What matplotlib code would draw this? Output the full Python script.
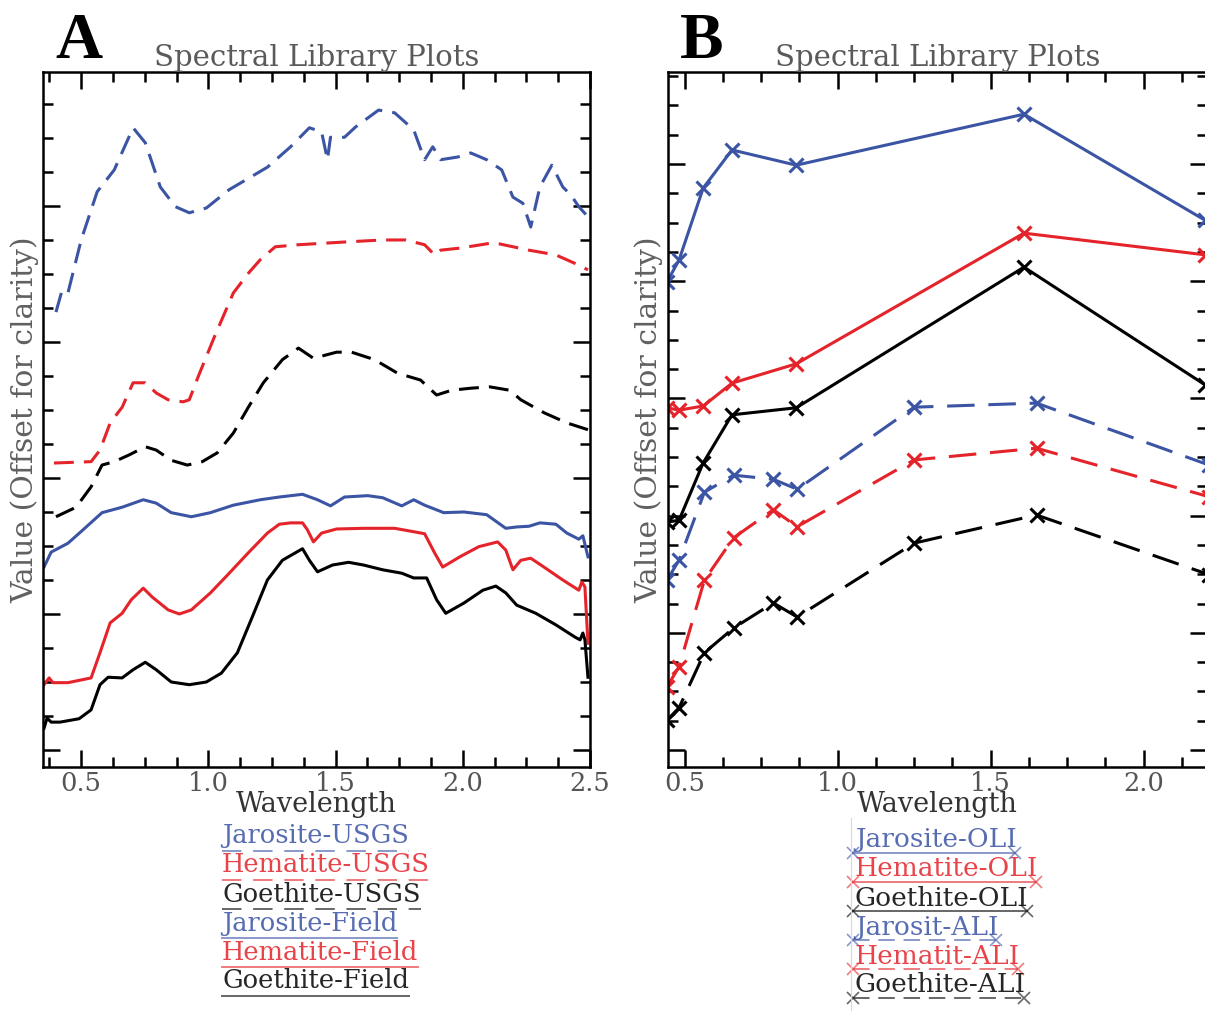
import numpy as np
import matplotlib

matplotlib.use("Agg")
import matplotlib.pyplot as plt
from matplotlib.lines import Line2D
from matplotlib.ticker import MultipleLocator, NullFormatter

BLUE = "#3b54a4"
RED = "#e4232a"
BLACK = "#000000"

# Panel A: USGS library spectra (dashed) and field spectra (solid), offset for clarity
jar_usgs_wl = [0.401, 0.425, 0.448, 0.500, 0.563, 0.630, 0.704, 0.752, 0.811, 0.870, 0.925, 0.992,
               1.082, 1.232, 1.323, 1.397, 1.445, 1.468, 1.480, 1.535, 1.578, 1.669, 1.732, 1.807,
               1.850, 1.882, 1.913, 1.980, 2.031, 2.094, 2.153, 2.197, 2.236, 2.267, 2.303, 2.350,
               2.393, 2.425, 2.456, 2.492]
jar_usgs = [0.644, 0.676, 0.672, 0.750, 0.821, 0.853, 0.915, 0.893, 0.828, 0.799, 0.790, 0.797,
            0.824, 0.857, 0.887, 0.915, 0.909, 0.868, 0.901, 0.901, 0.916, 0.941, 0.937, 0.912,
            0.868, 0.887, 0.868, 0.872, 0.878, 0.868, 0.853, 0.813, 0.804, 0.769, 0.828, 0.860,
            0.828, 0.816, 0.799, 0.784]

hem_usgs_wl = [0.393, 0.539, 0.574, 0.614, 0.661, 0.704, 0.752, 0.795, 0.842, 0.901, 0.925, 0.960,
               1.023, 1.098, 1.157, 1.204, 1.263, 1.354, 1.535, 1.685, 1.775, 1.850, 1.889, 1.913,
               1.988, 2.122, 2.260, 2.366, 2.456, 2.492]
hem_usgs = [0.422, 0.424, 0.441, 0.481, 0.504, 0.540, 0.540, 0.525, 0.515, 0.512, 0.515, 0.549,
            0.607, 0.672, 0.701, 0.721, 0.740, 0.743, 0.747, 0.750, 0.750, 0.743, 0.728, 0.735,
            0.738, 0.746, 0.735, 0.728, 0.713, 0.706]

goe_usgs_wl = [0.401, 0.480, 0.539, 0.582, 0.630, 0.689, 0.752, 0.795, 0.854, 0.917, 0.976, 1.035,
               1.098, 1.157, 1.216, 1.291, 1.354, 1.413, 1.504, 1.563, 1.653, 1.744, 1.834, 1.897,
               1.956, 2.031, 2.106, 2.185, 2.228, 2.319, 2.409, 2.492]
goe_usgs = [0.343, 0.357, 0.387, 0.419, 0.424, 0.434, 0.446, 0.441, 0.426, 0.419, 0.424, 0.437,
            0.466, 0.504, 0.540, 0.574, 0.591, 0.576, 0.585, 0.585, 0.574, 0.554, 0.544, 0.522,
            0.529, 0.532, 0.534, 0.529, 0.515, 0.496, 0.481, 0.471]

jar_field_wl = [0.354, 0.382, 0.448, 0.508, 0.582, 0.661, 0.744, 0.795, 0.854, 0.933, 1.008, 1.098,
                1.204, 1.279, 1.370, 1.429, 1.480, 1.535, 1.626, 1.685, 1.760, 1.807, 1.850, 1.925,
                2.004, 2.094, 2.169, 2.212, 2.260, 2.303, 2.366, 2.409, 2.456, 2.472, 2.492]
jar_field = [0.269, 0.291, 0.304, 0.324, 0.349, 0.357, 0.368, 0.363, 0.349, 0.343, 0.349, 0.360,
             0.368, 0.372, 0.376, 0.368, 0.359, 0.372, 0.374, 0.371, 0.359, 0.368, 0.360, 0.349,
             0.350, 0.346, 0.326, 0.328, 0.329, 0.334, 0.332, 0.319, 0.310, 0.315, 0.284]

hem_field_wl = [0.354, 0.374, 0.389, 0.448, 0.539, 0.574, 0.614, 0.661, 0.697, 0.744, 0.779, 0.842,
                0.886, 0.933, 1.008, 1.082, 1.157, 1.232, 1.279, 1.323, 1.370, 1.389, 1.413, 1.445,
                1.504, 1.610, 1.732, 1.807, 1.850, 1.889, 1.921, 1.988, 2.063, 2.137, 2.169, 2.197,
                2.228, 2.267, 2.319, 2.393, 2.456, 2.468, 2.480, 2.492]
hem_field = [0.096, 0.106, 0.099, 0.099, 0.106, 0.143, 0.187, 0.201, 0.221, 0.238, 0.225, 0.206,
             0.200, 0.206, 0.231, 0.260, 0.290, 0.319, 0.332, 0.334, 0.334, 0.324, 0.306, 0.319,
             0.325, 0.326, 0.326, 0.321, 0.318, 0.290, 0.269, 0.284, 0.299, 0.306, 0.294, 0.265,
             0.279, 0.282, 0.269, 0.250, 0.235, 0.247, 0.240, 0.157]

goe_field_wl = [0.354, 0.366, 0.382, 0.417, 0.492, 0.539, 0.574, 0.606, 0.661, 0.704, 0.752, 0.795,
                0.854, 0.925, 0.992, 1.051, 1.114, 1.173, 1.232, 1.291, 1.370, 1.397, 1.429, 1.488,
                1.551, 1.610, 1.685, 1.760, 1.807, 1.858, 1.897, 1.933, 2.004, 2.079, 2.130, 2.169,
                2.212, 2.287, 2.366, 2.441, 2.461, 2.472, 2.480, 2.492]
goe_field = [0.032, 0.047, 0.041, 0.041, 0.046, 0.059, 0.096, 0.107, 0.106, 0.118, 0.129, 0.118,
             0.100, 0.096, 0.100, 0.113, 0.143, 0.196, 0.250, 0.279, 0.296, 0.279, 0.262, 0.272,
             0.276, 0.272, 0.265, 0.260, 0.253, 0.253, 0.221, 0.201, 0.216, 0.235, 0.241, 0.231,
             0.213, 0.201, 0.184, 0.166, 0.162, 0.172, 0.162, 0.107]

# Panel B: spectra resampled to OLI (solid) and ALI (dashed) bands
oli_wl = [0.443, 0.482, 0.561, 0.655, 0.865, 1.609, 2.201]
jar_oli = [0.799, 0.836, 0.959, 1.024, 0.998, 1.085, 0.904]
hem_oli = [0.584, 0.580, 0.587, 0.626, 0.659, 0.882, 0.845]
goe_oli = [0.389, 0.392, 0.490, 0.572, 0.584, 0.824, 0.623]

ali_wl = [0.443, 0.482, 0.565, 0.660, 0.790, 0.868, 1.250, 1.650, 2.215]
jar_ali = [0.290, 0.324, 0.440, 0.469, 0.462, 0.445, 0.585, 0.592, 0.486]
hem_ali = [0.108, 0.142, 0.290, 0.362, 0.410, 0.381, 0.495, 0.515, 0.432]
goe_ali = [0.051, 0.072, 0.166, 0.208, 0.251, 0.227, 0.353, 0.401, 0.299]

legend_a = ["Jarosite-USGS", "Hematite-USGS", "Goethite-USGS",
            "Jarosite-Field", "Hematite-Field", "Goethite-Field"]
legend_b = ["Jarosite-OLI", "Hematite-OLI", "Goethite-OLI",
            "Jarosit-ALI", "Hematit-ALI", "Goethite-ALI"]

SERIF = ["DejaVu Serif"]
LW = 2.2
DASH_A = (6.5, 3.3)
DASH_B = (9, 4.5)

W, H = 1205, 1011


def style_axis(ax, xlim, ylim, ylabel_x):
    ax.set_xlim(*xlim)
    ax.set_ylim(*ylim)
    ax.xaxis.set_major_locator(MultipleLocator(0.5))
    ax.xaxis.set_minor_locator(MultipleLocator(0.125))
    ax.yaxis.set_major_locator(MultipleLocator(0.2))
    ax.yaxis.set_minor_locator(MultipleLocator(0.05))
    ax.yaxis.set_major_formatter(NullFormatter())
    ax.tick_params(which="both", direction="in", top=True, right=True, width=1.8,
                   labelsize=18.5, labelcolor="#555555", pad=3)
    ax.tick_params(which="major", length=12)
    ax.tick_params(which="minor", length=7)
    for label in ax.get_xticklabels():
        label.set_family(SERIF)
    for spine in ax.spines.values():
        spine.set_linewidth(1.8)
    ax.set_title("Spectral Library Plots", family=SERIF, fontsize=21, color="#5a5a5a", pad=4)
    ax.set_xlabel("Wavelength", family=SERIF, fontsize=19.5, color="#333333")
    ax.xaxis.set_label_coords(0.5, -0.035)
    ax.set_ylabel("Value (Offset for clarity)", family=SERIF, fontsize=21.5, color="#606060")
    ax.yaxis.set_label_coords(ylabel_x, 0.5)


def px_box(left, top, right, bottom):
    return [left / W, 1 - bottom / H, (right - left) / W, (bottom - top) / H]


fig = plt.figure(figsize=(W / 100, H / 100), dpi=100)

ax_a = fig.add_axes(px_box(43, 72, 590, 767))
ax_a.plot(jar_usgs_wl, jar_usgs, color=BLUE, lw=LW, dashes=DASH_A)
ax_a.plot(hem_usgs_wl, hem_usgs, color=RED, lw=LW, dashes=DASH_A)
ax_a.plot(goe_usgs_wl, goe_usgs, color=BLACK, lw=LW, dashes=DASH_A)
ax_a.plot(jar_field_wl, jar_field, color=BLUE, lw=LW)
ax_a.plot(hem_field_wl, hem_field, color=RED, lw=LW)
ax_a.plot(goe_field_wl, goe_field, color=BLACK, lw=LW)
style_axis(ax_a, (0.35, 2.5), (-0.025, 0.997), -0.006)

ax_b = fig.add_axes(px_box(668, 72, 1207, 767))
mk = dict(marker="x", markersize=10, markeredgewidth=2.2)
ax_b.plot(oli_wl, jar_oli, color=BLUE, lw=LW, **mk)
ax_b.plot(oli_wl, hem_oli, color=RED, lw=LW, **mk)
ax_b.plot(oli_wl, goe_oli, color=BLACK, lw=LW, **mk)
ax_b.plot(ali_wl, jar_ali, color=BLUE, lw=LW, dashes=DASH_B, **mk)
ax_b.plot(ali_wl, hem_ali, color=RED, lw=LW, dashes=DASH_B, **mk)
ax_b.plot(ali_wl, goe_ali, color=BLACK, lw=LW, dashes=DASH_B, **mk)
style_axis(ax_b, (0.446, 2.207), (-0.029, 1.157), -0.008)

fig.text(55 / W, 1 - 58 / H, "A", family=["Liberation Serif"], fontweight="bold",
         fontsize=47, va="baseline", ha="left")
fig.text(680 / W, 1 - 58 / H, "B", family=["Liberation Serif"], fontweight="bold",
         fontsize=47, va="baseline", ha="left")

# legends drawn under each panel: text with the sample line underneath it
colors = [BLUE, RED, BLACK, BLUE, RED, BLACK]
texts_a, texts_b = [], []
for i, (name, c) in enumerate(zip(legend_a, colors)):
    y = 1 - (836 + 29 * i) / H
    texts_a.append(fig.text(222 / W, y, name, family=SERIF, fontsize=18.5, color=c,
                            alpha=0.85, va="center", ha="left"))
for i, (name, c) in enumerate(zip(legend_b, colors)):
    y = 1 - (840 + 29 * i) / H
    texts_b.append(fig.text(855 / W, y, name, family=SERIF, fontsize=19, color=c,
                            alpha=0.85, va="center", ha="left"))

fig.canvas.draw()
renderer = fig.canvas.get_renderer()
for i, t in enumerate(texts_a):
    ext = t.get_window_extent(renderer)
    y = 1 - (851 + 29 * i) / H
    line = Line2D([222 / W, ext.x1 / W], [y, y], transform=fig.transFigure,
                  color=colors[i], lw=1.4, alpha=0.6)
    if i < 3:
        line.set_dashes((10, 6))
    fig.add_artist(line)
for i, t in enumerate(texts_b):
    ext = t.get_window_extent(renderer)
    y = 1 - (853 + 29 * i) / H
    line = Line2D([853 / W, (ext.x1 - 2) / W], [y, y], transform=fig.transFigure,
                  color=colors[i], lw=1.4, alpha=0.6, marker="x", markersize=8,
                  markeredgewidth=1.2)
    if i >= 3:
        line.set_dashes((8.5, 4.5))
    fig.add_artist(line)

# faint frame edge left of the second legend
fig.add_artist(Line2D([851 / W, 851 / W], [0, 1 - 818 / H], transform=fig.transFigure,
                      color="#d8d8d8", lw=0.8))

fig.savefig("out.png", dpi=100)
plt.close(fig)
